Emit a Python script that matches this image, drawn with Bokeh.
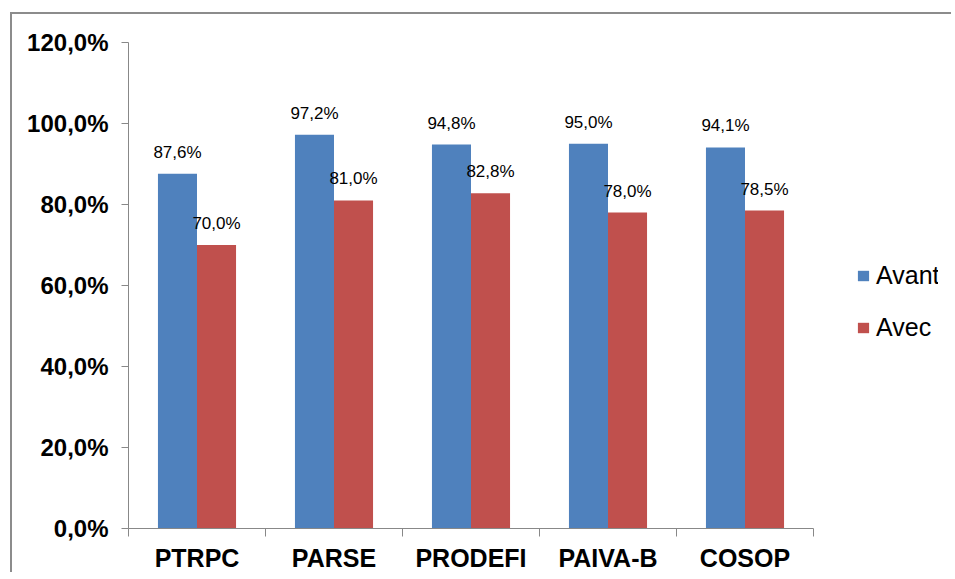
from bokeh.plotting import figure
from bokeh.models import (Range1d, FixedTicker, ColumnDataSource, LabelSet, Legend,
                          LegendItem)
from bokeh.core.properties import value
from bokeh.embed import file_html
from bokeh.resources import INLINE

categories = ["PTRPC", "PARSE", "PRODEFI", "PAIVA-B", "COSOP"]
avant = [87.6, 97.2, 94.8, 95.0, 94.1]
avec = [70.0, 81.0, 82.8, 78.0, 78.5]
y_ticks = [0, 20, 40, 60, 80, 100, 120]

BLUE = "#4F81BD"
RED = "#C0504D"
FONT = "Liberation Sans"
BW = 0.285

def fmt(v):
    return f"{v:.1f}%".replace(".", ",")

n = len(categories)
centers = [i + 0.5 for i in range(n)]
src_a = ColumnDataSource(dict(x=[c - BW / 2 for c in centers], top=avant, lab=[fmt(v) for v in avant]))
src_b = ColumnDataSource(dict(x=[c + BW / 2 for c in centers], top=avec, lab=[fmt(v) for v in avec]))

W, H = 941, 560
ML, MR, MT, MB = 116, 15, 28, 44
axis_px = 685                      # pixel length of the category axis
frame_w = W - ML - MR
x_end = n * frame_w / axis_px      # frame extends right to host the legend

p = figure(width=W, height=H, output_backend="svg", toolbar_location=None,
           x_range=Range1d(0, x_end), y_range=Range1d(0, 120),
           min_border_left=ML, min_border_right=MR, min_border_top=MT, min_border_bottom=MB)
p.outline_line_color = None
p.grid.visible = False
p.background_fill_color = "white"
p.border_fill_color = "white"
p.styles = {"margin-left": "10px", "margin-top": "12px",
            "border-left": "2px solid #8c8c8c", "border-top": "2px solid #8c8c8c"}

ra = p.vbar(x="x", top="top", width=BW, source=src_a, fill_color=BLUE, line_color=None)
rb = p.vbar(x="x", top="top", width=BW, source=src_b, fill_color=RED, line_color=None)

for s in (src_a, src_b):
    p.add_layout(LabelSet(x="x", y="top", text="lab", source=s, y_offset=16,
                          text_align="center", text_baseline="alphabetic",
                          text_font=value(FONT), text_font_size=value("17px"),
                          text_color="black"))

# axes
xa = p.xaxis[0]
xa.bounds = (0, n)
xa.ticker = FixedTicker(ticks=centers, minor_ticks=list(range(n + 1)))
xa.major_label_overrides = {c: name for c, name in zip(centers, categories)}
xa.major_tick_out = 0
xa.major_tick_in = 0
xa.minor_tick_out = 8
xa.minor_tick_in = 0
xa.minor_tick_line_color = "#888888"
xa.axis_line_color = "#888888"
xa.major_label_text_font = FONT
xa.major_label_text_font_style = "bold"
xa.major_label_text_font_size = "25px"
xa.major_label_text_color = "black"
xa.major_label_standoff = 7

ya = p.yaxis[0]
ya.ticker = FixedTicker(ticks=y_ticks, minor_ticks=[])
ya.major_label_overrides = {t: fmt(t) for t in y_ticks}
ya.major_tick_out = 7
ya.major_tick_in = 0
ya.major_tick_line_color = "#888888"
ya.axis_line_color = "#888888"
ya.minor_tick_line_color = None
ya.major_label_text_font = FONT
ya.major_label_text_font_style = "bold"
ya.major_label_text_font_size = "24px"
ya.major_label_text_color = "black"
ya.major_label_standoff = 13

legend = Legend(items=[LegendItem(label="Avant", renderers=[ra]),
                       LegendItem(label="Avec", renderers=[rb])],
                location=(728, 186), border_line_color=None, background_fill_alpha=0,
                padding=0, margin=0, glyph_width=14, glyph_height=13, label_height=25,
                spacing=23, label_standoff=6, label_text_font=FONT,
                label_text_font_size="25px", label_text_color="black")
p.add_layout(legend, "center")

open("out.html", "w").write(file_html(p, INLINE))
